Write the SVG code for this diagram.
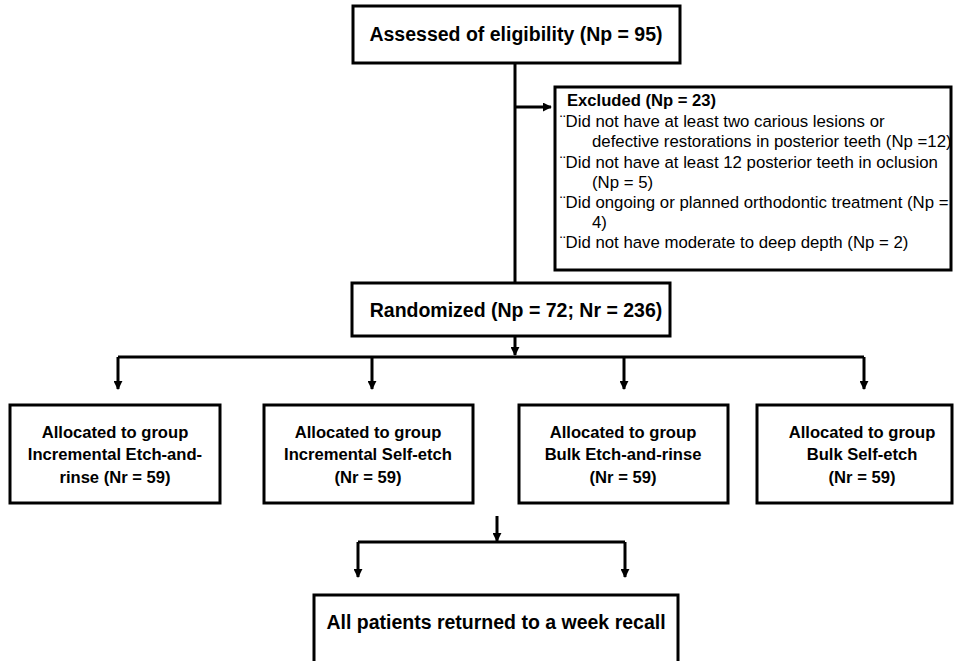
<svg xmlns="http://www.w3.org/2000/svg" width="956" height="661" viewBox="0 0 956 661">
<defs>
<marker id="ah" viewBox="0 0 10 10" refX="9" refY="5" markerWidth="3" markerHeight="3" orient="auto" markerUnits="strokeWidth">
<path d="M0,0 L10,5 L0,10 z" fill="#000"/>
</marker>
<style>
.box{fill:#fff;stroke:#000;stroke-width:3}
.b{font-family:"Liberation Sans",Arial,sans-serif;font-weight:bold;fill:#000}
.big{font-size:19.5px}
.mid{font-size:16.6px}
.r{font-family:"Liberation Sans",Arial,sans-serif;font-size:16.8px;fill:#000}
.c{text-anchor:middle}
.ln{fill:none;stroke:#000;stroke-width:3}
</style>
</defs>
<rect width="956" height="661" fill="#fff"/>
<g id="connectors">
<path class="ln" d="M515,63 V283"/>
<path class="ln" d="M515,107 H551" marker-end="url(#ah)"/>
<path class="ln" d="M515,336 V355" marker-end="url(#ah)"/>
<path class="ln" d="M118,357 H864"/>
<path class="ln" d="M118,357 V389" marker-end="url(#ah)"/>
<path class="ln" d="M372,357 V389" marker-end="url(#ah)"/>
<path class="ln" d="M624,357 V389" marker-end="url(#ah)"/>
<path class="ln" d="M864,357 V389" marker-end="url(#ah)"/>
<path class="ln" d="M497,516 V541" marker-end="url(#ah)"/>
<path class="ln" d="M358,542 H625"/>
<path class="ln" d="M358,542 V577" marker-end="url(#ah)"/>
<path class="ln" d="M625,542 V577" marker-end="url(#ah)"/>
</g>
<g id="assessed">
<rect class="box" x="353" y="6" width="327" height="57"/>
<text class="b big c" x="516" y="41">Assessed of eligibility (Np = 95)</text>
</g>
<g id="excluded">
<rect class="box" x="555" y="87" width="396" height="183"/>
<text class="b mid" x="567" y="106">Excluded (Np = 23)</text>
<text class="r" x="560" y="127">¨Did not have at least two carious lesions or</text>
<text class="r" x="592" y="147">defective restorations in posterior teeth (Np =12)</text>
<text class="r" x="560" y="168">¨Did not have at least 12 posterior teeth in oclusion</text>
<text class="r" x="592" y="188">(Np = 5)</text>
<text class="r" x="560" y="208">¨Did ongoing or planned orthodontic treatment (Np =</text>
<text class="r" x="592" y="228">4)</text>
<text class="r" x="560" y="248">¨Did not have moderate to deep depth (Np = 2)</text>
</g>
<g id="randomized">
<rect class="box" x="352" y="283" width="318" height="53"/>
<text class="b big c" x="516" y="317">Randomized (Np = 72; Nr = 236)</text>
</g>
<g id="group1">
<rect class="box" x="10" y="405" width="210" height="98"/>
<text class="b mid c" x="115" y="438">Allocated to group</text>
<text class="b mid c" x="115" y="460">Incremental Etch-and-</text>
<text class="b mid c" x="115" y="483">rinse (Nr = 59)</text>
</g>
<g id="group2">
<rect class="box" x="264" y="405" width="209" height="98"/>
<text class="b mid c" x="368" y="438">Allocated to group</text>
<text class="b mid c" x="368" y="460">Incremental Self-etch</text>
<text class="b mid c" x="368" y="483">(Nr = 59)</text>
</g>
<g id="group3">
<rect class="box" x="519" y="405" width="209" height="98"/>
<text class="b mid c" x="623" y="438">Allocated to group</text>
<text class="b mid c" x="623" y="460">Bulk Etch-and-rinse</text>
<text class="b mid c" x="623" y="483">(Nr = 59)</text>
</g>
<g id="group4">
<rect class="box" x="757" y="405" width="195" height="98"/>
<text class="b mid c" x="862" y="438">Allocated to group</text>
<text class="b mid c" x="862" y="460">Bulk Self-etch</text>
<text class="b mid c" x="862" y="483">(Nr = 59)</text>
</g>
<g id="recall">
<rect class="box" x="314" y="595" width="364" height="80"/>
<text class="b big c" x="496" y="629">All patients returned to a week recall</text>
</g>
</svg>
